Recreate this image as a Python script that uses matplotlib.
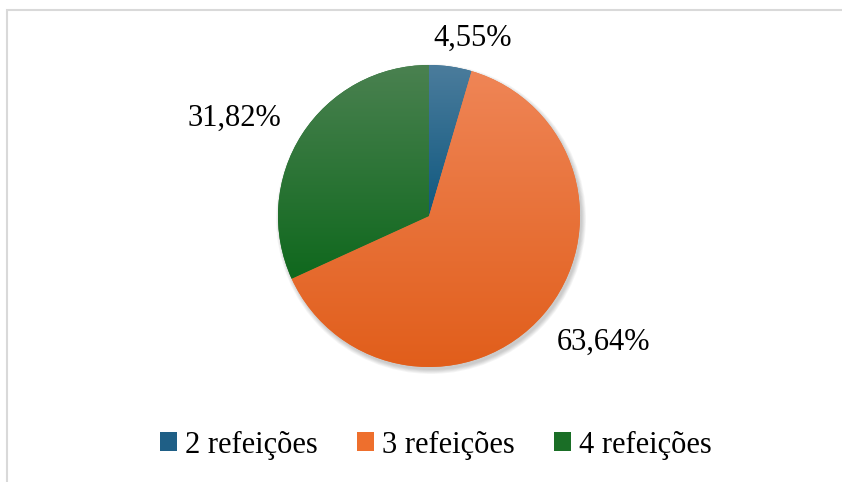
import matplotlib.pyplot as plt
import numpy as np
from matplotlib.colors import LinearSegmentedColormap
from matplotlib.patches import Circle, Patch, Rectangle

categories = ["2 refeições", "3 refeições", "4 refeições"]
shares = [4.55, 63.64, 31.82]

# top / bottom colours of the gradient on each slice
TOP_COLORS = ["#4b7c9c", "#ef8556", "#4a8150"]
BOTTOM_COLORS = ["#0f587f", "#e15e1b", "#0f681d"]
MID_COLORS = ["#1f5f86", "#ee6f2d", "#1a6e26"]

# label placement relative to each slice middle: (radius factor, angle shift in degrees)
LABEL_PLACE = [(1.21, -5.5), (1.43, 5.0), (1.44, 6.0)]

W, H = 842, 482
CENTER = (429, H - 216)
RADIUS = 151

plt.rcParams["font.family"] = ["Liberation Serif", "DejaVu Serif"]

fig = plt.figure(figsize=(W / 100, H / 100), dpi=100)
ax = fig.add_axes([0, 0, 1, 1])
ax.set_xlim(0, W)
ax.set_ylim(0, H)
ax.set_axis_off()

# chart frame (cut off at right and bottom in the reference)
ax.add_patch(Rectangle((7, -20), W + 20, H - 10 + 20, fill=False,
                       edgecolor="#d9d9d9", linewidth=1.5, zorder=0))

# soft shadow under the pie
for k in range(6):
    ax.add_patch(Circle((CENTER[0] + 2, CENTER[1] - 3), RADIUS + 4 - k * 0.8,
                        color="black", alpha=0.035, linewidth=0, zorder=1))

wedges, _ = ax.pie(shares, colors=MID_COLORS, startangle=90, counterclock=False,
                   center=CENTER, radius=RADIUS, frame=True,
                   wedgeprops=dict(linewidth=0, zorder=2))
ax.set_xlim(0, W)
ax.set_ylim(0, H)
ax.set_aspect("equal")
ax.set_axis_off()

grad = np.linspace(0, 1, 256).reshape(-1, 1)
for w, top, bottom in zip(wedges, TOP_COLORS, BOTTOM_COLORS):
    cmap = LinearSegmentedColormap.from_list("g", [top, bottom])
    bb = w.get_path().get_extents(w.get_transform() + ax.transData.inverted())
    im = ax.imshow(grad, cmap=cmap, aspect="auto", origin="upper",
                   extent=(bb.x0, bb.x1, bb.y0, bb.y1), zorder=3)
    im.set_clip_path(w)

for w, val, (fac, shift) in zip(wedges, shares, LABEL_PLACE):
    mid = np.deg2rad((w.theta1 + w.theta2) / 2 + shift)
    x = CENTER[0] + fac * RADIUS * np.cos(mid)
    y = CENTER[1] + fac * RADIUS * np.sin(mid)
    ax.text(x, y, f"{val:.2f}%".replace(".", ","), fontsize=22,
            ha="center", va="center", color="black", zorder=5)

handles = [Patch(facecolor=c, edgecolor="none") for c in MID_COLORS]
ax.legend(handles, categories, loc="center", bbox_to_anchor=(436 / W, 1 - 445 / H),
          ncol=3, frameon=False, fontsize=22, handlelength=0.55, handleheight=0.6,
          handletextpad=0.25, columnspacing=1.3, borderaxespad=0)

fig.savefig("out.png", dpi=100)
